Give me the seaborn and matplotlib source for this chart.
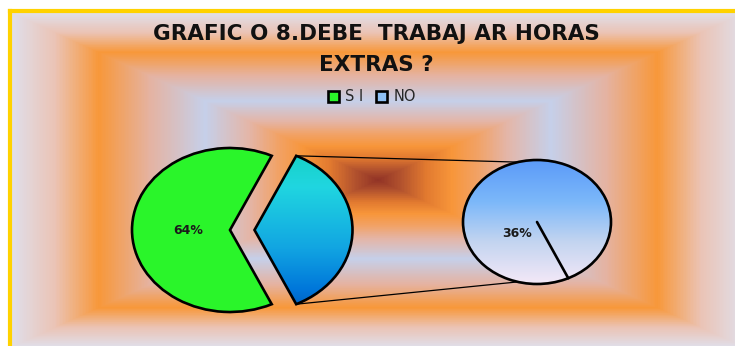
import matplotlib
matplotlib.use("Agg")
import matplotlib.pyplot as plt
import matplotlib.colors as mcolors
from matplotlib.patches import ConnectionPatch
import numpy as np
import seaborn as sns

sns.set_theme(style="white")
plt.rcParams["font.family"] = ["DejaVu Sans"]

# Data
categories = ["S I", "NO"]
values = [64, 36]
title_lines = ["GRAFIC O 8.DEBE  TRABAJ AR HORAS", "EXTRAS ?"]

W, H = 735, 346
fig = plt.figure(figsize=(W / 100, H / 100), dpi=100)
fig.patch.set_facecolor("white")


def box(left, top, width, height):
    # pixel box (from top-left) -> figure fraction
    return [left / W, 1 - (top + height) / H, width / W, height / H]


# ---------------------------------------------------------
# Background: rectangular gradient from the centre
# ---------------------------------------------------------
bg_cmap = mcolors.LinearSegmentedColormap.from_list("bg", [
    (0.00, "#923426"), (0.06, "#b2522e"), (0.13, "#e27a30"), (0.20, "#f8963a"),
    (0.27, "#f2a266"), (0.35, "#e4b6a8"), (0.47, "#c6d0ea"), (0.62, "#e5b3a2"),
    (0.76, "#f8983a"), (0.88, "#ebc4b6"), (1.00, "#e0e0ec")])
xs = np.arange(10, W) + 0.5
ys = np.arange(11, H) + 0.5
gx, gy = np.meshgrid(np.abs(xs - 378) / 368, np.abs(ys - 180) / 168)
dist = np.clip(np.maximum(gx, gy), 0, 1)

bg = fig.add_axes(box(10, 11, W - 10, H - 11))
bg.imshow(dist, cmap=bg_cmap, vmin=0, vmax=1, extent=[0, 1, 0, 1], aspect="auto",
          interpolation="bilinear")
bg.set_xticks([])
bg.set_yticks([])
for side in ["right", "bottom"]:
    bg.spines[side].set_visible(False)
for side in ["top", "left"]:
    bg.spines[side].set_visible(True)
    bg.spines[side].set_color("#ffd200")
    bg.spines[side].set_linewidth(3.0)

# ---------------------------------------------------------
# Primary pie (ellipse 98 x 82 px)
# ---------------------------------------------------------
rx1, ry1, cx1, cy1 = 98, 82, 230, 230
ax1 = fig.add_axes(box(cx1 - 1.3 * rx1, cy1 - 1.2 * ry1, 2.6 * rx1, 2.4 * ry1))
ax1.patch.set_alpha(0)
start = 180 - 360 * values[0] / 100 / 2  # SI centred on the left
explode = [0, 0.25]
wedges, _, autotexts = ax1.pie(
    values, explode=explode, startangle=start, colors=["#2af52a", "#8ec0f4"],
    autopct=lambda p: f"{p:.0f}%" if p > 50 else "", pctdistance=0.43,
    wedgeprops=dict(edgecolor="black", linewidth=1.9),
    textprops=dict(fontsize=9, fontweight="bold", color="#1a1a1a"))
ax1.set_aspect("auto")
ax1.axis("off")

leg = fig.legend(wedges, categories, loc="center", bbox_to_anchor=(372 / W, 1 - 97 / H),
                 ncol=2, frameon=False, handlelength=0.75, handleheight=0.75,
                 handletextpad=0.4, columnspacing=0.9, fontsize=10.5)

# gradient fill for the exploded NO slice
no_cmap = mcolors.LinearSegmentedColormap.from_list("no", [
    (0.0, "#14d0be"), (0.25, "#20d6e0"), (0.6, "#12a6e2"), (0.85, "#0076da"), (1.0, "#0058b4")])
wedges[1].set_facecolor("none")
wedges[1].set_zorder(3)
grad = np.linspace(0, 1, 256).reshape(-1, 1)
im1 = ax1.imshow(grad, cmap=no_cmap, extent=[0.2, 1.3, -1.05, 1.05], aspect="auto", zorder=2)
im1.set_clip_path(wedges[1])
ax1.set_xlim(-1.3, 1.3)
ax1.set_ylim(-1.2, 1.2)

# ---------------------------------------------------------
# Secondary pie (ellipse 74 x 62 px)
# ---------------------------------------------------------
rx2, ry2, cx2, cy2 = 74, 62, 537, 222
ax2 = fig.add_axes(box(cx2 - 1.3 * rx2, cy2 - 1.2 * ry2, 2.6 * rx2, 2.4 * ry2))
ax2.patch.set_alpha(0)
start2 = -65
wedges2, _ = ax2.pie([values[1]], startangle=start2, colors=["none"],
                     wedgeprops=dict(edgecolor="black", linewidth=1.9))
wedges2[0].set_zorder(3)
sec_cmap = mcolors.LinearSegmentedColormap.from_list("sec", [
    (0.0, "#5898f8"), (0.35, "#7cb8fa"), (0.65, "#c2d4f0"), (1.0, "#f8eaf8")])
im2 = ax2.imshow(grad, cmap=sec_cmap, extent=[-1.05, 1.05, -1.05, 1.05], aspect="auto", zorder=2)
im2.set_clip_path(wedges2[0])
ang = np.deg2rad(start2)
ax2.plot([0, np.cos(ang)], [0, np.sin(ang)], color="black", linewidth=1.9, zorder=4)
ax2.text(-0.27, -0.18, f"{values[1]}%", ha="center", va="center", fontsize=9,
         fontweight="bold", color="#1a1a1a", zorder=5)
ax2.set_aspect("auto")
ax2.set_xlim(-1.3, 1.3)
ax2.set_ylim(-1.2, 1.2)
ax2.axis("off")

# connector lines between exploded slice and secondary pie
half = np.deg2rad(360 * values[1] / 100 / 2)
for sgn, a2 in [(1, 105), (-1, 255)]:
    p1 = (explode[1] + np.cos(half), sgn * np.sin(half))
    p2 = (np.cos(np.deg2rad(a2)), np.sin(np.deg2rad(a2)))
    con = ConnectionPatch(xyA=p1, coordsA=ax1.transData, xyB=p2, coordsB=ax2.transData,
                          color="black", linewidth=0.9, zorder=1)
    fig.add_artist(con)

# title
fig.text(376 / W, 1 - 34 / H, title_lines[0], ha="center", va="center",
         fontsize=15.5, fontweight="bold", color="#111111")
fig.text(376 / W, 1 - 65 / H, title_lines[1], ha="center", va="center",
         fontsize=15.5, fontweight="bold", color="#111111")

fig.savefig("out.png", dpi=100)
